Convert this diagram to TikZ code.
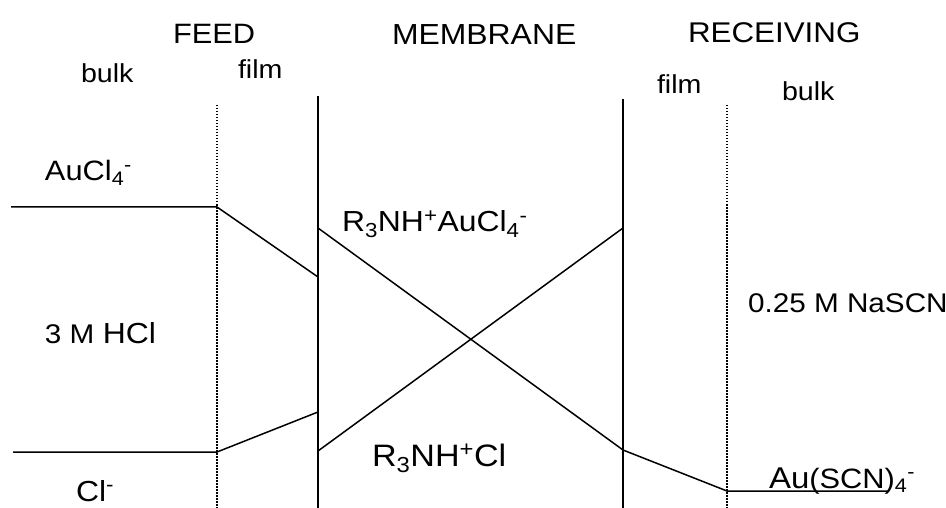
\documentclass[tikz,border=0pt]{standalone}
\usepackage{fontspec}
\setmainfont{Liberation Sans}[FakeStretch=1.1]
\newcommand{\fs}[1]{\fontsize{#1}{#1}\selectfont}
\begin{document}
\begin{tikzpicture}[x=1pt,y=-1pt,
  lbl/.style={anchor=base west,inner sep=0pt,outer sep=0pt},
  wall/.style={line width=1.5pt},
  film/.style={line width=1.5pt,dash pattern=on 1.5pt off 1.5pt},
  prof/.style={line width=1.5pt,line join=round}]
\useasboundingbox (0,0) rectangle (946,508);
% walls
\coordinate (fdT) at (217,105); \coordinate (fdB) at (217,508);
\coordinate (mlT) at (318,96);  \coordinate (mlB) at (318,508);
\coordinate (mrT) at (623,99);  \coordinate (mrB) at (623,508);
\coordinate (rdT) at (727,105); \coordinate (rdB) at (727,508);
\draw[film] (fdT) -- (fdB);
\draw[wall] (mlT) -- (mlB);
\draw[wall] (mrT) -- (mrB);
\draw[film] (rdT) -- (rdB);
% AuCl4 profile
\coordinate (a0) at (11,207);
\coordinate (a1) at (217,207);
\coordinate (a2) at (318,277);
\coordinate (a3) at (318,228);
\coordinate (a4) at (623,450);
\coordinate (a5) at (727,491);
\coordinate (a6) at (889,491);
\draw[prof] (a0) -- (a1) -- (a2);
\draw[prof] (a3) -- (a4) -- (a5) -- (a6);
% Cl profile
\coordinate (c0) at (13,452);
\coordinate (c1) at (217,452);
\coordinate (c2) at (318,412);
\coordinate (c3) at (318,451);
\coordinate (c4) at (623,228);
\draw[prof] (c0) -- (c1) -- (c2);
\draw[prof] (c3) -- (c4);
% labels
\node[lbl] (feed) at (173,44) {\fs{28}FEED};
\node[lbl] (memb) at (392,45) {\fs{29}MEMBRANE};
\node[lbl] (recv) at (688,43) {\fs{28.5}RECEIVING};
\node[lbl] (bulkL) at (81,83) {\fs{26}bulk};
\node[lbl] (filmL) at (238,79) {\fs{26}film};
\node[lbl] (filmR) at (657,94) {\fs{26}film};
\node[lbl] (bulkR) at (782,101) {\fs{26}bulk};
\node[lbl] (aucl) at (45,181) {\fs{28}AuCl\textsubscript{4}\textsuperscript{-}};
\node[lbl] (cplx1) at (342,232) {\fs{29}R\textsubscript{3}NH\textsuperscript{+}AuCl\textsubscript{4}\textsuperscript{-}};
\node[lbl] (hcl) at (45,343) {\fs{27}3 M \fs{29}HCl};
\node[lbl] (nascn) at (748,312) {\fs{27}0.25 M NaSCN};
\node[lbl] (cplx2) at (372,466) {\fs{31}R\textsubscript{3}NH\textsuperscript{+}Cl};
\node[lbl] (auscn) at (769,488) {\fs{30}Au\fs{28}(SCN)\textsubscript{4}\textsuperscript{-}};
\node[lbl] (cl) at (76,501) {\fs{29}Cl\textsuperscript{-}};
\end{tikzpicture}
\end{document}
